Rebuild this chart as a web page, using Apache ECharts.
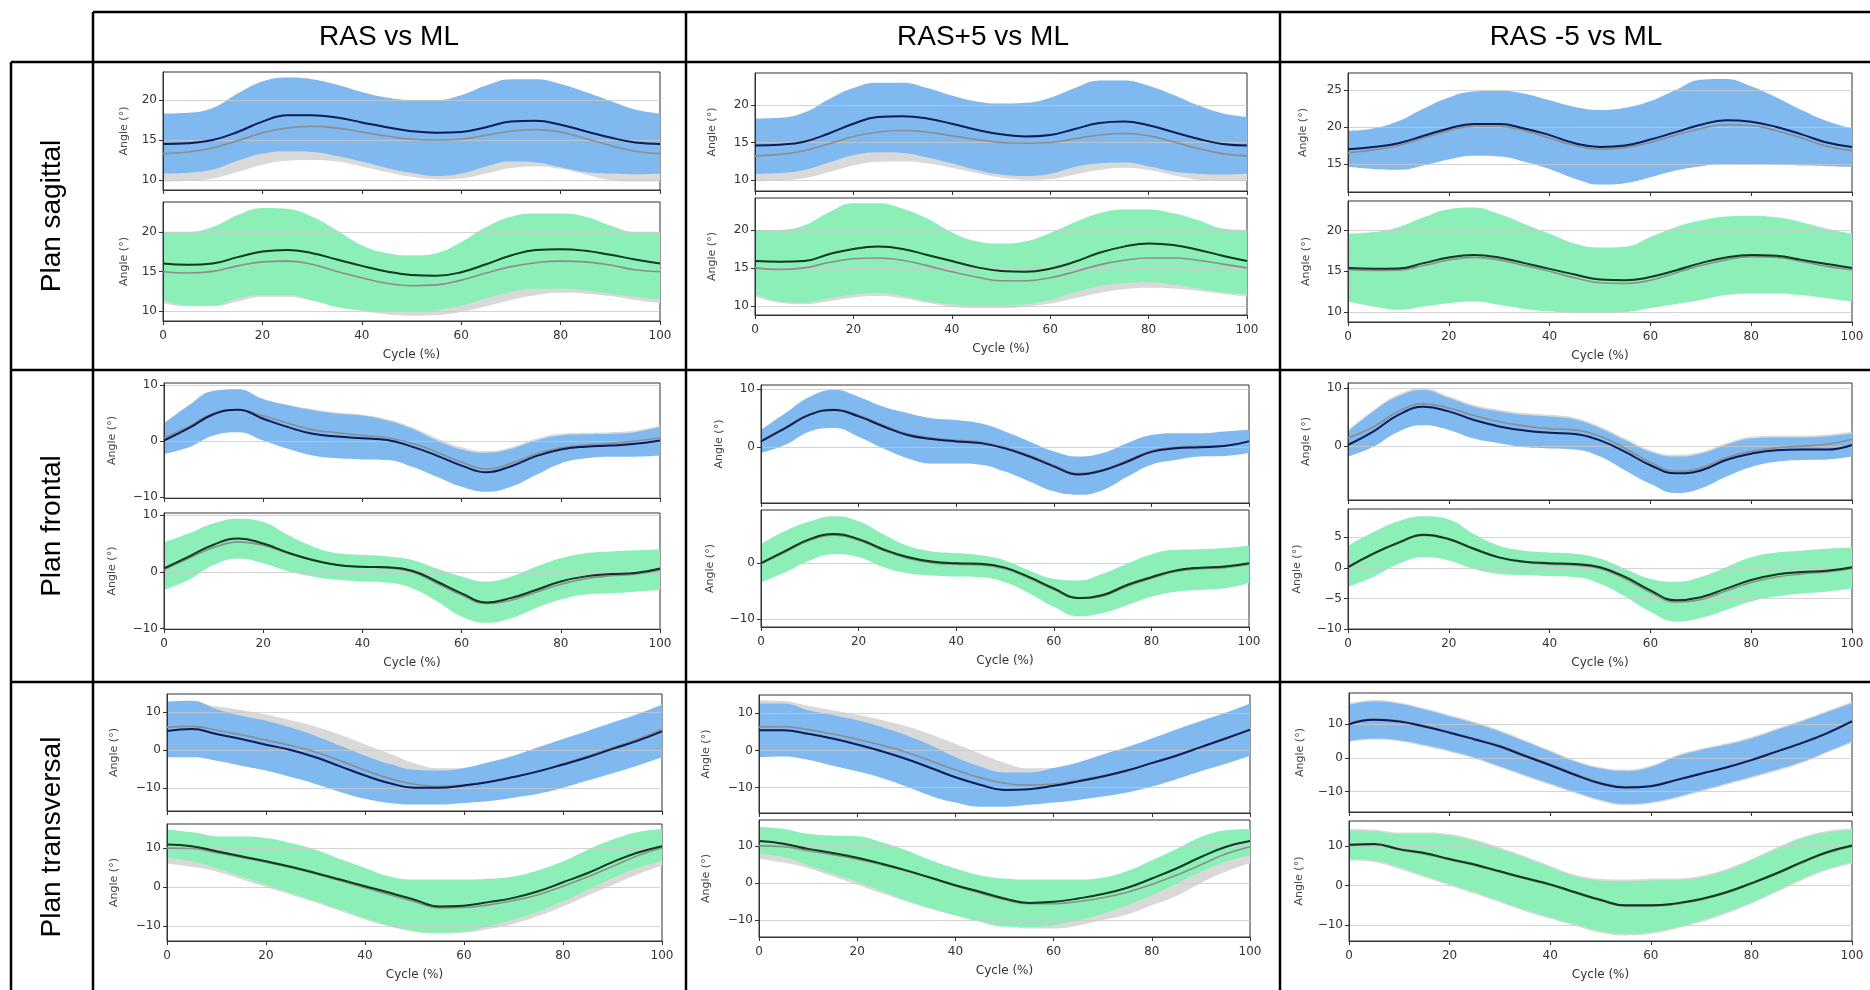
<!DOCTYPE html>
<html><head><meta charset="utf-8">
<script src="https://cdn.jsdelivr.net/npm/echarts@6/dist/echarts.min.js"></script>
<style>html,body{margin:0;padding:0;background:#fff;}#c{width:1870px;height:990px;}</style>
</head><body><div id="c"></div>
<script>
// ---------- labels / ticks ----------
const colTitles = ['RAS vs ML', 'RAS+5 vs ML', 'RAS -5 vs ML'];
const rowTitles = ['Plan sagittal', 'Plan frontal', 'Plan transversal'];
const cycle = ['0','5','10','15','20','25','30','35','40','45','50','55','60','65','70','75','80','85','90','95','100'];
const yTicksSag = [10, 15, 20];
const yTicksSagHigh = [15, 20, 25];
const yTicksFro = [-10, 0, 10];
const yTicksFroUpper = [0, 10];
const yTicksFroLower = [-10, 0];
const yTicksFroFive = [-10, -5, 0, 5];
const yTicksTra = [-10, 0, 10];
const yAxisName = 'Angle (°)';
const xAxisName = 'Cycle (%)';

// ---------- Plan sagittal, RAS vs ML ----------
const sagA_blue_mean = [14.5,14.6,15.0,16.0,17.3,18.1,18.1,17.8,17.2,16.6,16.1,15.9,16.0,16.6,17.3,17.4,16.9,16.1,15.3,14.7,14.5];
const sagA_blue_lo = [10.8,10.9,11.3,12.4,13.3,13.6,13.5,13.0,12.3,11.5,10.9,10.5,10.8,11.7,12.3,12.2,11.6,11.0,10.8,10.7,10.8];
const sagA_blue_hi = [18.3,18.4,19.0,20.8,22.3,22.8,22.6,21.9,21.0,20.3,20.0,20.0,20.6,21.8,22.6,22.6,22.0,21.0,19.9,18.8,18.3];
const sagA_blue_refMean = [13.3,13.5,14.0,14.9,15.9,16.5,16.7,16.5,16.0,15.5,15.1,15.0,15.1,15.6,16.1,16.3,16.0,15.2,14.3,13.6,13.3];
const sagA_blue_refLo = [9.8,9.9,10.2,11.0,11.9,12.4,12.5,12.3,11.7,11.0,10.4,10.1,10.2,10.8,11.5,11.7,11.4,10.7,10.0,9.8,9.8];
const sagA_blue_refHi = [16.8,17.0,17.6,18.6,19.6,20.3,20.5,20.3,19.8,19.2,18.8,18.6,18.7,19.3,19.8,20.0,19.7,18.9,18.0,17.2,16.8];
const sagA_green_mean = [16.0,15.85,16.0,16.8,17.5,17.7,17.3,16.5,15.7,15.0,14.55,14.45,14.9,15.9,17.0,17.7,17.8,17.6,17.1,16.5,16.0];
const sagA_green_lo = [11.4,10.7,10.7,11.6,12.0,12.0,11.4,10.5,10.1,9.9,9.9,10.1,10.7,11.6,12.4,12.8,12.8,12.6,12.2,11.8,11.4];
const sagA_green_hi = [20.0,20.0,20.6,22.1,23.0,22.9,21.9,20.2,18.3,17.3,17.0,17.3,18.7,20.6,21.9,22.3,22.3,21.9,20.8,20.0,20.0];
const sagA_green_refMean = [14.95,14.8,15.0,15.7,16.2,16.3,15.9,15.0,14.2,13.5,13.2,13.3,13.9,14.8,15.6,16.1,16.3,16.2,15.8,15.2,14.95];
const sagA_green_refLo = [11.0,10.6,10.6,11.2,11.8,11.8,11.3,10.6,10.0,9.6,9.4,9.5,9.9,10.6,11.4,12.0,12.3,12.2,11.9,11.4,11.0];
const sagA_green_refHi = [18.8,18.6,18.8,19.6,20.1,20.1,19.6,18.7,18.0,17.3,17.0,17.1,17.7,18.6,19.4,19.9,20.1,20.0,19.6,19.0,18.8];

// ---------- Plan sagittal, RAS+5 vs ML ----------
const sagB_blue_mean = [14.6,14.7,15.1,16.2,17.5,18.4,18.5,18.2,17.5,16.7,16.1,15.8,16.0,16.8,17.6,17.8,17.3,16.4,15.5,14.8,14.6];
const sagB_blue_lo = [10.8,10.9,11.3,12.3,13.3,13.7,13.6,13.0,12.2,11.3,10.7,10.5,10.8,11.7,12.2,12.3,11.8,11.1,10.8,10.7,10.8];
const sagB_blue_hi = [18.2,18.3,19.0,20.8,22.3,23.0,23.0,22.3,21.3,20.5,20.2,20.3,21.0,22.3,23.3,23.3,22.6,21.4,20.0,18.9,18.4];
const sagB_blue_refMean = [13.2,13.4,13.9,14.8,15.8,16.4,16.6,16.4,15.9,15.4,15.0,14.9,15.0,15.5,16.0,16.2,15.9,15.1,14.2,13.5,13.2];
const sagB_blue_refLo = [9.8,9.9,10.2,11.0,11.9,12.4,12.5,12.2,11.6,10.9,10.3,10.0,10.1,10.7,11.3,11.6,11.3,10.6,10.0,9.8,9.8];
const sagB_blue_refHi = [16.7,16.9,17.5,18.5,19.5,20.2,20.4,20.2,19.7,19.1,18.7,18.5,18.6,19.2,19.7,19.9,19.6,18.8,17.9,17.1,16.7];
const sagB_green_mean = [15.9,15.8,15.9,16.8,17.5,17.8,17.5,16.7,15.9,15.1,14.6,14.5,14.9,15.8,17.0,17.8,18.2,18.0,17.4,16.6,15.9];
const sagB_green_lo = [11.6,10.6,10.4,11.0,11.5,11.7,11.3,10.6,10.2,10.0,10.0,10.2,10.8,11.8,12.6,13.0,13.1,12.8,12.3,11.8,11.5];
const sagB_green_hi = [20.0,20.0,20.6,22.3,23.5,23.5,22.8,21.5,19.7,18.5,18.2,18.5,19.6,21.0,22.2,22.7,22.7,22.2,21.3,20.2,20.0];
const sagB_green_refMean = [15.0,14.8,15.0,15.7,16.2,16.3,16.0,15.3,14.5,13.8,13.3,13.3,13.7,14.5,15.4,16.0,16.3,16.3,16.0,15.5,15.0];
const sagB_green_refLo = [11.2,10.4,10.2,10.6,11.1,11.3,11.0,10.4,9.9,9.7,9.7,9.9,10.3,11.0,11.7,12.2,12.4,12.3,12.0,11.6,11.2];
const sagB_green_refHi = [18.8,18.6,18.8,19.5,20.0,20.1,19.8,19.1,18.3,17.6,17.1,17.1,17.5,18.3,19.2,19.8,20.1,20.1,19.8,19.3,18.8];

// ---------- Plan sagittal, RAS -5 vs ML ----------
const sagC_blue_mean = [17.0,17.3,17.8,18.8,19.8,20.4,20.4,19.8,18.9,17.8,17.3,17.5,18.3,19.3,20.3,20.9,20.7,20.0,19.0,17.9,17.3];
const sagC_blue_lo = [14.6,14.3,14.2,14.8,15.6,16.1,16.0,15.3,14.3,13.0,12.2,12.4,13.2,14.1,14.7,15.0,15.0,14.9,14.8,14.7,14.6];
const sagC_blue_hi = [19.5,19.8,20.8,22.5,24.0,24.8,24.9,24.5,23.6,22.7,22.3,22.6,23.5,25.0,26.4,26.5,25.5,24.0,22.3,20.8,19.8];
const sagC_blue_refMean = [16.5,16.9,17.5,18.5,19.5,20.1,20.1,19.5,18.5,17.5,17.0,17.2,17.9,18.9,19.8,20.3,20.2,19.5,18.5,17.4,16.8];
const sagC_blue_refLo = [14.7,14.4,14.3,14.9,15.7,16.2,16.1,15.4,14.4,13.1,12.3,12.5,13.3,14.2,14.8,15.1,15.1,15.0,14.9,14.8,14.7];
const sagC_blue_refHi = [19.3,19.6,20.6,22.3,23.8,24.6,24.7,24.3,23.4,22.5,22.1,22.4,23.3,24.8,26.2,26.3,25.3,23.8,22.1,20.6,19.6];
const sagC_green_mean = [15.4,15.3,15.35,16.0,16.7,17.0,16.7,16.0,15.3,14.6,14.0,13.9,14.3,15.1,16.0,16.7,17.0,16.9,16.4,15.9,15.4];
const sagC_green_lo = [11.3,10.7,10.3,10.7,11.1,11.3,10.9,10.4,10.1,9.9,9.9,10.0,10.5,11.0,11.5,12.1,12.3,12.3,12.1,11.7,11.3];
const sagC_green_hi = [19.6,19.8,20.4,21.6,22.6,22.8,22.0,20.8,19.6,18.4,17.9,18.0,19.2,20.4,21.2,21.7,21.8,21.6,21.0,20.2,19.6];
const sagC_green_refMean = [15.2,15.1,15.15,15.7,16.4,16.7,16.4,15.7,15.0,14.2,13.6,13.5,13.9,14.8,15.7,16.4,16.8,16.7,16.2,15.6,15.2];
const sagC_green_refLo = [11.5,10.9,10.5,10.9,11.3,11.5,11.1,10.6,10.3,10.1,10.1,10.2,10.7,11.2,11.7,12.3,12.5,12.5,12.3,11.9,11.5];
const sagC_green_refHi = [19.4,19.6,20.2,21.4,22.4,22.6,21.8,20.6,19.4,18.2,17.7,17.8,19.0,20.2,21.0,21.5,21.6,21.4,20.8,20.0,19.4];

// ---------- Plan frontal, RAS vs ML ----------
const froA_blue_mean = [0.1,2.3,4.8,5.6,4.0,2.5,1.3,0.8,0.5,0.2,-1.0,-2.6,-4.4,-5.6,-4.5,-2.7,-1.5,-1.0,-0.8,-0.5,0.1];
const froA_blue_lo = [-2.3,-1.1,1.0,1.6,0.1,-1.4,-2.6,-3.1,-3.3,-3.4,-4.6,-6.4,-8.2,-9.1,-8.2,-6.1,-4.0,-3.1,-2.8,-2.8,-2.6];
const froA_blue_hi = [3.1,6.4,9.0,9.3,7.5,6.4,5.5,4.9,4.6,3.7,2.2,0.1,-1.5,-2.1,-1.4,0.1,1.0,1.2,1.3,1.6,2.5];
const froA_blue_refMean = [0.6,2.6,5.0,5.6,4.5,3.2,2.0,1.5,1.0,0.6,-0.4,-2.0,-3.8,-5.0,-4.0,-2.3,-1.2,-0.7,-0.4,0.0,0.6];
const froA_blue_refLo = [-1.8,-0.6,1.3,1.8,0.6,-0.8,-2.0,-2.5,-2.8,-3.0,-4.0,-5.8,-7.6,-8.5,-7.6,-5.6,-3.6,-2.7,-2.4,-2.3,-2.0];
const froA_blue_refHi = [3.3,6.2,8.7,9.1,7.6,6.5,5.7,5.1,4.7,3.9,2.5,0.5,-1.1,-1.8,-1.1,0.4,1.3,1.5,1.6,1.9,2.8];
const froA_green_mean = [0.6,2.7,4.8,5.9,5.0,3.4,2.1,1.2,0.9,0.8,0.2,-1.7,-3.8,-5.4,-4.6,-3.2,-1.7,-0.8,-0.4,-0.2,0.6];
const froA_green_lo = [-3.2,-1.4,1.2,2.4,1.5,0.1,-0.8,-1.4,-1.7,-1.9,-2.9,-5.2,-7.9,-9.0,-8.2,-6.4,-4.9,-4.0,-3.8,-3.5,-3.2];
const froA_green_hi = [5.2,6.8,8.6,9.4,8.8,6.5,4.5,3.3,3.0,2.7,2.1,0.6,-0.8,-1.7,-0.8,0.9,2.4,3.3,3.6,3.8,4.0];
const froA_green_refMean = [0.4,2.4,4.3,5.3,4.7,3.3,2.0,1.2,0.9,0.7,0.0,-2.0,-4.1,-5.6,-5.0,-3.6,-2.2,-1.2,-0.7,-0.4,0.3];
const froA_green_refLo = [-2.8,-1.0,1.3,2.3,1.6,0.3,-0.6,-1.2,-1.5,-1.7,-2.7,-5.0,-7.6,-8.7,-8.0,-6.3,-4.8,-3.9,-3.6,-3.3,-3.0];
const froA_green_refHi = [4.6,6.2,7.8,8.6,8.2,6.1,4.3,3.1,2.8,2.6,2.0,0.4,-1.0,-1.9,-1.0,0.6,2.0,2.9,3.2,3.4,3.6];

// ---------- Plan frontal, RAS+5 vs ML ----------
const froB_blue_mean = [1.0,3.3,5.6,6.4,5.3,3.6,2.1,1.4,1.0,0.7,-0.2,-1.6,-3.3,-4.7,-4.0,-2.5,-0.8,-0.2,0.0,0.2,1.0];
const froB_blue_lo = [-1.0,0.4,2.7,3.3,1.8,-0.2,-1.9,-2.8,-2.8,-3.0,-4.2,-5.9,-7.6,-8.2,-7.4,-5.1,-3.0,-2.2,-1.6,-1.5,-1.0];
const froB_blue_hi = [3.0,5.9,8.7,9.9,8.7,7.0,5.9,5.0,4.7,4.1,2.7,1.0,-0.7,-1.6,-1.0,0.7,2.1,2.4,2.4,2.7,3.0];
const froB_blue_refMean = [1.1,3.4,5.7,6.5,5.5,3.8,2.3,1.6,1.2,0.9,0.0,-1.4,-3.1,-4.5,-3.9,-2.3,-0.6,0.0,0.2,0.3,1.1];
const froB_blue_refLo = [-0.8,0.6,2.9,3.5,2.0,0.0,-1.7,-2.6,-2.6,-2.8,-4.0,-5.7,-7.4,-8.0,-7.2,-4.9,-2.8,-2.0,-1.4,-1.3,-0.8];
const froB_blue_refHi = [2.8,5.7,8.5,9.7,8.5,6.8,5.7,4.8,4.5,3.9,2.5,0.8,-0.9,-1.8,-1.2,0.5,1.9,2.2,2.2,2.5,2.8];
const froB_green_mean = [0.0,2.2,4.3,5.2,4.3,2.5,1.1,0.3,0.0,-0.1,-0.8,-2.5,-4.5,-6.2,-5.7,-3.9,-2.5,-1.3,-0.8,-0.6,0.0];
const froB_green_lo = [-3.4,-1.6,0.5,1.6,1.1,-0.7,-1.8,-2.2,-2.4,-2.5,-3.4,-5.4,-7.8,-9.5,-8.9,-7.5,-6.0,-5.1,-4.8,-4.5,-3.6];
const froB_green_hi = [3.4,5.8,7.5,8.4,7.5,5.2,3.1,2.1,1.8,1.4,0.5,-1.3,-2.8,-3.1,-1.9,-0.1,1.6,2.4,2.5,2.7,3.1];
const froB_green_refMean = [-0.1,2.0,4.1,5.0,4.1,2.3,0.9,0.1,-0.2,-0.3,-1.0,-2.7,-4.7,-6.3,-5.9,-4.1,-2.7,-1.5,-1.0,-0.8,-0.2];
const froB_green_refLo = [-3.2,-1.4,0.7,1.8,1.3,-0.5,-1.6,-2.0,-2.2,-2.3,-3.2,-5.2,-7.6,-9.3,-8.7,-7.3,-5.8,-4.9,-4.6,-4.3,-3.4];
const froB_green_refHi = [3.2,5.6,7.3,8.2,7.3,5.0,2.9,1.9,1.6,1.2,0.3,-1.5,-3.0,-3.3,-2.1,-0.3,1.4,2.2,2.3,2.5,2.9];

// ---------- Plan frontal, RAS -5 vs ML ----------
const froC_blue_mean = [0.2,2.5,5.4,6.8,6.0,4.5,3.4,2.7,2.3,2.1,1.0,-1.0,-3.3,-4.7,-4.2,-2.4,-1.3,-0.7,-0.6,-0.6,0.2];
const froC_blue_lo = [-1.8,-0.1,2.5,3.6,2.8,1.3,0.5,-0.2,-0.4,-0.6,-1.8,-4.2,-6.5,-8.1,-7.3,-5.3,-3.6,-2.7,-2.4,-2.3,-1.8];
const froC_blue_hi = [2.5,6.0,8.6,9.7,8.3,6.8,6.0,5.4,5.1,4.6,3.1,1.0,-1.0,-1.8,-1.3,0.2,1.3,1.5,1.5,1.7,2.2];
const froC_blue_refMean = [1.4,3.3,6.0,7.3,6.6,5.3,4.2,3.5,3.0,2.8,1.7,-0.4,-2.8,-4.3,-3.8,-2.0,-0.9,-0.3,0.0,0.3,1.2];
const froC_blue_refLo = [-1.0,0.5,3.0,4.0,3.3,1.9,1.1,0.4,0.1,-0.1,-1.2,-3.7,-6.0,-7.6,-6.8,-4.8,-3.1,-2.2,-1.9,-1.8,-1.2];
const froC_blue_refHi = [2.8,6.2,8.9,10.0,8.6,7.1,6.3,5.7,5.4,4.9,3.4,1.3,-0.7,-1.5,-1.0,0.5,1.6,1.8,1.8,2.0,2.5];
const froC_green_mean = [0.1,2.3,4.1,5.4,4.7,3.1,1.7,1.0,0.75,0.6,0.1,-1.5,-3.7,-5.3,-4.8,-3.4,-2.0,-1.1,-0.7,-0.5,0.1];
const froC_green_lo = [-3.1,-1.5,0.6,1.7,1.2,-0.2,-1.0,-1.2,-1.4,-1.5,-2.6,-4.7,-7.2,-8.8,-8.2,-6.9,-5.5,-4.7,-4.2,-3.9,-3.4];
const froC_green_hi = [3.6,5.8,7.6,8.4,7.9,5.5,3.6,2.8,2.5,2.3,1.5,-0.2,-1.8,-2.3,-1.5,0.1,1.7,2.5,2.8,3.1,3.3];
const froC_green_refMean = [0.0,2.2,4.0,5.3,4.6,3.0,1.6,0.9,0.6,0.4,-0.1,-1.8,-4.0,-5.6,-5.2,-3.8,-2.4,-1.5,-1.0,-0.7,-0.1];
const froC_green_refLo = [-2.9,-1.3,0.8,1.9,1.4,0.0,-0.8,-1.0,-1.2,-1.3,-2.4,-4.5,-7.0,-8.6,-8.0,-6.7,-5.3,-4.5,-4.0,-3.7,-3.2];
const froC_green_refHi = [3.4,5.6,7.4,8.2,7.7,5.3,3.4,2.6,2.3,2.1,1.3,-0.4,-2.0,-2.5,-1.7,-0.1,1.5,2.3,2.6,2.9,3.1];

// ---------- Plan transversal, RAS vs ML ----------
const traA_blue_mean = [5.0,5.5,4.2,2.9,1.4,0.0,-1.9,-4.3,-6.7,-8.7,-9.9,-9.9,-9.3,-8.4,-7.1,-5.6,-3.8,-1.9,0.3,2.4,4.9];
const traA_blue_lo = [-1.9,-1.9,-2.8,-4.1,-5.4,-7.1,-8.9,-11.0,-12.8,-13.9,-14.3,-14.3,-13.9,-13.4,-12.5,-11.5,-9.9,-8.0,-6.1,-4.1,-1.9];
const traA_blue_hi = [12.7,12.9,10.7,9.0,7.7,5.9,3.7,1.1,-1.5,-3.7,-5.2,-5.4,-4.7,-3.2,-1.5,0.7,2.9,5.0,7.2,9.4,11.8];
const traA_blue_refMean = [6.0,6.2,5.2,4.0,2.6,1.2,-0.5,-2.8,-5.3,-7.5,-9.0,-9.5,-9.2,-8.3,-7.0,-5.5,-3.6,-1.6,0.6,2.8,5.4];
const traA_blue_refLo = [-0.5,-0.3,-1.3,-2.5,-3.9,-5.3,-7.0,-9.3,-11.8,-13.0,-13.5,-13.8,-13.5,-12.8,-11.5,-10.0,-8.1,-6.1,-3.9,-1.7,0.9];
const traA_blue_refHi = [12.5,12.5,11.5,10.5,9.3,7.8,6.2,4.0,1.5,-1.0,-3.5,-4.8,-4.8,-3.8,-2.2,-0.2,2.0,4.3,6.8,9.3,12.0];
const traA_green_mean = [10.9,10.5,9.2,7.9,6.6,5.2,3.6,1.9,0.2,-1.5,-3.3,-5.0,-4.8,-3.9,-2.8,-1.1,1.2,3.6,6.4,8.8,10.5];
const traA_green_lo = [7.5,6.6,4.9,2.7,0.6,-1.5,-3.7,-5.8,-8.0,-10.0,-11.4,-11.8,-11.4,-10.1,-8.4,-6.3,-3.7,-0.7,2.3,4.9,6.6];
const traA_green_hi = [14.8,14.1,13.0,13.0,12.6,11.3,9.6,7.2,4.9,2.7,1.9,1.9,1.9,2.1,2.7,4.3,6.6,9.6,12.2,14.1,14.9];
const traA_green_refMean = [10.0,9.9,8.8,7.6,6.4,5.0,3.4,1.6,-0.2,-2.0,-3.8,-5.4,-5.3,-4.6,-3.5,-2.0,0.2,2.6,5.3,8.0,10.1];
const traA_green_refLo = [6.0,5.2,4.0,2.0,0.0,-2.0,-4.0,-6.2,-8.4,-10.2,-11.5,-12.0,-11.8,-10.8,-9.5,-7.5,-5.0,-2.2,0.5,3.2,5.5];
const traA_green_refHi = [14.0,14.0,13.0,12.6,12.2,11.0,9.3,7.0,4.6,2.4,1.5,1.2,1.2,1.5,2.4,3.8,6.0,9.0,11.7,13.5,14.3];

// ---------- Plan transversal, RAS+5 vs ML ----------
const traB_blue_mean = [5.4,5.4,4.5,3.2,1.6,-0.2,-2.3,-4.7,-7.2,-9.2,-10.6,-10.4,-9.5,-8.3,-7.0,-5.4,-3.4,-1.4,0.9,3.2,5.6];
const traB_blue_lo = [-1.8,-1.6,-2.5,-4.1,-5.6,-7.4,-9.7,-12.2,-14.0,-15.1,-15.1,-14.6,-14.0,-13.3,-12.4,-11.3,-9.7,-7.7,-5.6,-3.6,-1.4];
const traB_blue_hi = [12.6,12.6,10.8,9.5,8.1,6.3,4.1,1.4,-1.8,-4.3,-5.9,-5.9,-4.7,-3.2,-1.1,0.9,3.2,5.6,7.9,10.1,12.6];
const traB_blue_refMean = [6.3,6.4,5.6,4.4,3.0,1.4,-0.5,-2.8,-5.2,-7.3,-8.8,-9.3,-9.0,-8.0,-6.8,-5.2,-3.3,-1.3,0.9,3.1,5.4];
const traB_blue_refLo = [-0.8,-0.6,-1.3,-2.6,-4.0,-5.5,-7.3,-9.7,-12.0,-13.5,-14.0,-14.0,-13.5,-12.6,-11.6,-10.3,-8.6,-6.6,-4.5,-2.5,-0.8];
const traB_blue_refHi = [13.5,13.3,12.0,10.8,9.6,8.2,6.5,4.3,1.8,-0.8,-3.3,-4.8,-4.7,-3.5,-1.9,-0.1,2.2,4.5,7.0,9.5,12.0];
const traB_green_mean = [11.3,10.6,9.2,8.1,6.8,5.2,3.4,1.4,-0.6,-2.4,-4.2,-5.4,-5.1,-4.2,-3.0,-1.3,1.2,3.9,7.0,9.7,11.3];
const traB_green_lo = [7.9,7.0,4.8,2.5,0.3,-2.2,-4.7,-6.9,-8.7,-10.5,-11.8,-11.8,-11.4,-10.0,-8.3,-6.0,-3.3,-0.2,3.0,5.7,7.4];
const traB_green_hi = [15.1,14.6,13.3,12.8,12.6,11.0,8.8,6.1,3.9,2.1,1.2,0.9,0.9,0.9,1.4,3.2,6.1,9.2,12.4,14.2,14.6];
const traB_green_refMean = [10.0,9.8,8.7,7.6,6.4,4.9,3.2,1.3,-0.8,-2.7,-4.5,-5.6,-5.6,-5.0,-4.0,-2.5,-0.4,2.1,4.9,7.8,9.8];
const traB_green_refLo = [6.5,5.5,4.0,1.8,-0.5,-2.8,-5.0,-7.0,-8.8,-10.3,-11.5,-12.3,-12.3,-11.5,-10.0,-8.5,-6.0,-3.5,0.0,3.0,5.3];
const traB_green_refHi = [13.5,13.6,13.0,12.4,12.0,10.6,8.5,5.8,3.5,1.6,0.6,0.4,0.5,0.6,1.0,2.5,5.0,8.0,11.0,13.5,14.0];

// ---------- Plan transversal, RAS -5 vs ML ----------
const traC_blue_mean = [9.9,11.2,10.7,9.2,7.4,5.4,3.3,0.5,-2.2,-5.1,-7.6,-8.8,-8.4,-6.6,-4.7,-2.9,-0.7,1.8,4.3,7.2,10.7];
const traC_blue_lo = [5.0,5.7,5.2,3.8,2.1,0.1,-2.5,-5.1,-7.6,-10.1,-12.4,-13.6,-13.1,-11.6,-9.6,-7.6,-5.6,-3.5,-1.2,1.8,4.8];
const traC_blue_hi = [15.6,16.6,15.9,14.2,12.2,10.2,7.7,4.8,1.8,-1.2,-3.2,-3.9,-2.7,0.3,2.3,3.8,5.7,8.2,10.7,13.4,16.1];
const traC_blue_refMean = [10.2,11.4,10.9,9.4,7.6,5.6,3.6,0.8,-1.9,-4.8,-7.3,-8.6,-8.2,-6.4,-4.5,-2.7,-0.5,2.0,4.5,7.4,10.9];
const traC_blue_refLo = [4.6,5.3,4.8,3.4,1.7,-0.3,-2.9,-5.5,-8.0,-10.5,-12.8,-14.0,-13.5,-12.0,-10.0,-8.0,-6.0,-3.9,-1.6,1.4,4.4];
const traC_blue_refHi = [16.0,17.0,16.3,14.6,12.6,10.6,8.1,5.2,2.2,-0.8,-2.8,-3.5,-2.3,0.7,2.7,4.2,6.1,8.6,11.1,13.8,16.5];
const traC_green_mean = [10.3,10.5,9.2,8.2,6.7,5.3,3.6,1.9,0.3,-1.7,-3.6,-5.0,-5.0,-4.5,-3.4,-1.7,0.6,3.1,5.9,8.4,10.1];
const traC_green_lo = [6.7,6.3,4.6,2.5,0.4,-1.7,-3.9,-6.1,-8.0,-9.8,-11.5,-12.2,-11.8,-10.5,-8.8,-6.7,-4.2,-1.3,1.7,4.2,5.9];
const traC_green_hi = [13.9,13.7,13.0,13.0,12.6,11.2,9.2,7.0,4.6,2.3,1.3,1.1,1.3,1.4,2.1,3.8,6.3,9.2,11.8,13.4,14.0];
const traC_green_refMean = [10.1,10.3,9.0,8.0,6.5,5.1,3.4,1.7,0.1,-1.9,-3.8,-5.2,-5.2,-4.7,-3.6,-1.9,0.4,2.9,5.7,8.2,9.9];
const traC_green_refLo = [6.3,5.9,4.2,2.1,0.0,-2.1,-4.3,-6.5,-8.4,-10.2,-11.9,-12.6,-12.2,-10.9,-9.2,-7.1,-4.6,-1.7,1.3,3.8,5.5];
const traC_green_refHi = [14.3,14.1,13.4,13.4,13.0,11.6,9.6,7.4,5.0,2.7,1.7,1.5,1.7,1.8,2.5,4.2,6.7,9.6,12.2,13.8,14.4];

// ---------- panel wiring (data references) ----------
const panelSeries = [
  [sagA_blue_mean, sagA_blue_lo, sagA_blue_hi, sagA_blue_refMean, sagA_blue_refLo, sagA_blue_refHi, yTicksSag, 'blue'],
  [sagA_green_mean, sagA_green_lo, sagA_green_hi, sagA_green_refMean, sagA_green_refLo, sagA_green_refHi, yTicksSag, 'green'],
  [sagB_blue_mean, sagB_blue_lo, sagB_blue_hi, sagB_blue_refMean, sagB_blue_refLo, sagB_blue_refHi, yTicksSag, 'blue'],
  [sagB_green_mean, sagB_green_lo, sagB_green_hi, sagB_green_refMean, sagB_green_refLo, sagB_green_refHi, yTicksSag, 'green'],
  [sagC_blue_mean, sagC_blue_lo, sagC_blue_hi, sagC_blue_refMean, sagC_blue_refLo, sagC_blue_refHi, yTicksSagHigh, 'blue'],
  [sagC_green_mean, sagC_green_lo, sagC_green_hi, sagC_green_refMean, sagC_green_refLo, sagC_green_refHi, yTicksSag, 'green'],
  [froA_blue_mean, froA_blue_lo, froA_blue_hi, froA_blue_refMean, froA_blue_refLo, froA_blue_refHi, yTicksFro, 'blue'],
  [froA_green_mean, froA_green_lo, froA_green_hi, froA_green_refMean, froA_green_refLo, froA_green_refHi, yTicksFro, 'green'],
  [froB_blue_mean, froB_blue_lo, froB_blue_hi, froB_blue_refMean, froB_blue_refLo, froB_blue_refHi, yTicksFroUpper, 'blue'],
  [froB_green_mean, froB_green_lo, froB_green_hi, froB_green_refMean, froB_green_refLo, froB_green_refHi, yTicksFroLower, 'green'],
  [froC_blue_mean, froC_blue_lo, froC_blue_hi, froC_blue_refMean, froC_blue_refLo, froC_blue_refHi, yTicksFroUpper, 'blue'],
  [froC_green_mean, froC_green_lo, froC_green_hi, froC_green_refMean, froC_green_refLo, froC_green_refHi, yTicksFroFive, 'green'],
  [traA_blue_mean, traA_blue_lo, traA_blue_hi, traA_blue_refMean, traA_blue_refLo, traA_blue_refHi, yTicksTra, 'blue'],
  [traA_green_mean, traA_green_lo, traA_green_hi, traA_green_refMean, traA_green_refLo, traA_green_refHi, yTicksTra, 'green'],
  [traB_blue_mean, traB_blue_lo, traB_blue_hi, traB_blue_refMean, traB_blue_refLo, traB_blue_refHi, yTicksTra, 'blue'],
  [traB_green_mean, traB_green_lo, traB_green_hi, traB_green_refMean, traB_green_refLo, traB_green_refHi, yTicksTra, 'green'],
  [traC_blue_mean, traC_blue_lo, traC_blue_hi, traC_blue_refMean, traC_blue_refLo, traC_blue_refHi, yTicksTra, 'blue'],
  [traC_green_mean, traC_green_lo, traC_green_hi, traC_green_refMean, traC_green_refLo, traC_green_refHi, yTicksTra, 'green']
];

// ---------- layout (positions only) ----------
const layouts = [
  {left:163, top:72, width:497, height:118, min:8.75, max:23.5, gap:33},
  {left:163, top:202, width:497, height:119, min:8.75, max:23.75, gap:33},
  {left:755, top:73, width:492, height:118, min:8.5, max:24.3, gap:37},
  {left:755, top:198, width:492, height:117, min:8.8, max:24.2, gap:37},
  {left:1348, top:73, width:504, height:119, min:11.2, max:27.3, gap:39},
  {left:1348, top:201, width:504, height:121, min:8.8, max:23.6, gap:36},
  {left:164, top:383, width:496, height:115, min:-10.2, max:10.4, gap:46},
  {left:164, top:513, width:496, height:116, min:-10.1, max:10.4, gap:46},
  {left:761, top:385, width:488, height:118, min:-9.6, max:10.7, gap:36},
  {left:761, top:510, width:488, height:117, min:-11.4, max:9.5, gap:45},
  {left:1348, top:383, width:504, height:117, min:-9.3, max:10.9, gap:36},
  {left:1348, top:509, width:504, height:120, min:-10, max:9.6, gap:45},
  {left:167, top:694, width:495, height:117, min:-16, max:14.7, gap:47},
  {left:167, top:824, width:495, height:117, min:-13.9, max:16.2, gap:47},
  {left:759, top:695, width:491, height:118, min:-16.8, max:14.9, gap:47},
  {left:759, top:820, width:491, height:117, min:-14.6, max:17, gap:47},
  {left:1349, top:693, width:503, height:119, min:-16, max:19.1, gap:43},
  {left:1349, top:821, width:503, height:120, min:-14, max:16.3, gap:44}
];

const palette = {
  blue: {band:'#80b9f0', line:'#0c1b56'},
  green: {band:'#8cefb8', line:'#0b3a1c'},
  refBand: '#d9d9d9', refLine: '#8d8d8d'
};
const tickFont = 'DejaVu Sans';
const minusFmt = v => String(v).replace('-', '\u2212');

const grids = [], xAxes = [], yAxes = [], series = [];
layouts.forEach((L, i) => {
  const [mean, lo, hi, rMean, rLo, rHi, ticks, kind] = panelSeries[i];
  const isBottom = i % 2 === 1;
  grids.push({left:L.left, top:L.top, width:L.width, height:L.height, show:true,
    borderColor:'#333', borderWidth:1, backgroundColor:'rgba(0,0,0,0)', containLabel:false});
  xAxes.push({type:'category', gridIndex:i, data:cycle, boundaryGap:false, z:4,
    axisLine:{show:true, onZero:false, lineStyle:{color:'#333', width:1}},
    axisTick:{show:true, interval:3, length:4, lineStyle:{color:'#333'}},
    axisLabel:{show:isBottom, interval:3, margin:9, fontSize:12, color:'#333', fontFamily:tickFont},
    splitLine:{show:false},
    name: isBottom ? xAxisName : '', nameLocation:'middle', nameGap:28,
    nameTextStyle:{fontSize:12, color:'#333', fontFamily:tickFont}});
  yAxes.push({type:'value', gridIndex:i, min:L.min, max:L.max, z:3,
    axisLine:{show:true, onZero:false, lineStyle:{color:'#333', width:1}},
    axisTick:{show:true, length:4, customValues:ticks, lineStyle:{color:'#333'}},
    axisLabel:{customValues:ticks, margin:6, fontSize:12, color:'#333', fontFamily:tickFont, formatter:minusFmt},
    splitLine:{show:true, lineStyle:{color:'#c9c9c9', width:1, opacity:0.8}},
    name:yAxisName, nameLocation:'middle', nameRotate:90, nameGap:L.gap,
    nameTextStyle:{fontSize:11, color:'#444', fontFamily:tickFont}});
  const base = {type:'line', xAxisIndex:i, yAxisIndex:i, symbol:'none', smooth:0.45,
    silent:true, animation:false, z:2};
  const diff = (a, b) => a.map((v, k) => +(v - b[k]).toFixed(3));
  // reference (grey) band
  series.push(Object.assign({}, base, {data:rLo, stack:'r'+i, stackStrategy:'all', lineStyle:{opacity:0}}));
  series.push(Object.assign({}, base, {data:diff(rHi, rLo), stack:'r'+i, stackStrategy:'all', lineStyle:{opacity:0},
    areaStyle:{color:palette.refBand, opacity:1}}));
  // coloured band
  series.push(Object.assign({}, base, {data:lo, stack:'c'+i, stackStrategy:'all', lineStyle:{opacity:0}}));
  series.push(Object.assign({}, base, {data:diff(hi, lo), stack:'c'+i, stackStrategy:'all', lineStyle:{opacity:0},
    areaStyle:{color:palette[kind].band, opacity:1}}));
  // reference mean line
  series.push(Object.assign({}, base, {z:5, data:rMean, lineStyle:{color:palette.refLine, width:1.6}}));
  // mean line
  series.push(Object.assign({}, base, {z:6, data:mean, lineStyle:{color:palette[kind].line, width:2}}));
});

// ---------- table frame and titles ----------
const tableFont = '"Liberation Sans", Arial, sans-serif';
const lineStyle = {stroke:'#000', lineWidth:2.5};
const seg = (x1, y1, x2, y2) => ({type:'line', silent:true, z:100, shape:{x1, y1, x2, y2}, style:lineStyle});
const graphic = [
  seg(93, 12, 1870, 12),
  seg(11, 62, 1870, 62),
  seg(11, 370, 1870, 370),
  seg(11, 682, 1870, 682),
  seg(11, 62, 11, 990),
  seg(93, 12, 93, 990),
  seg(686, 12, 686, 990),
  seg(1280, 12, 1280, 990)
];
const colCenters = [389, 983, 1576];
colTitles.forEach((t, k) => graphic.push({type:'text', x:colCenters[k], y:37, silent:true,
  style:{text:t, fill:'#000', font:'28px ' + tableFont, align:'center', verticalAlign:'middle'}}));
const rowCenters = [216, 526, 837];
rowTitles.forEach((t, k) => graphic.push({type:'text', x:52, y:rowCenters[k], rotation:Math.PI/2, silent:true,
  style:{text:t, fill:'#000', font:'28px ' + tableFont, align:'center', verticalAlign:'middle'}}));

const chart = echarts.init(document.getElementById('c'), null, {renderer:'canvas', width:1870, height:990});
chart.setOption({
  animation:false,
  backgroundColor:'#fff',
  grid:grids, xAxis:xAxes, yAxis:yAxes, series:series, graphic:graphic
});
</script></body></html>
